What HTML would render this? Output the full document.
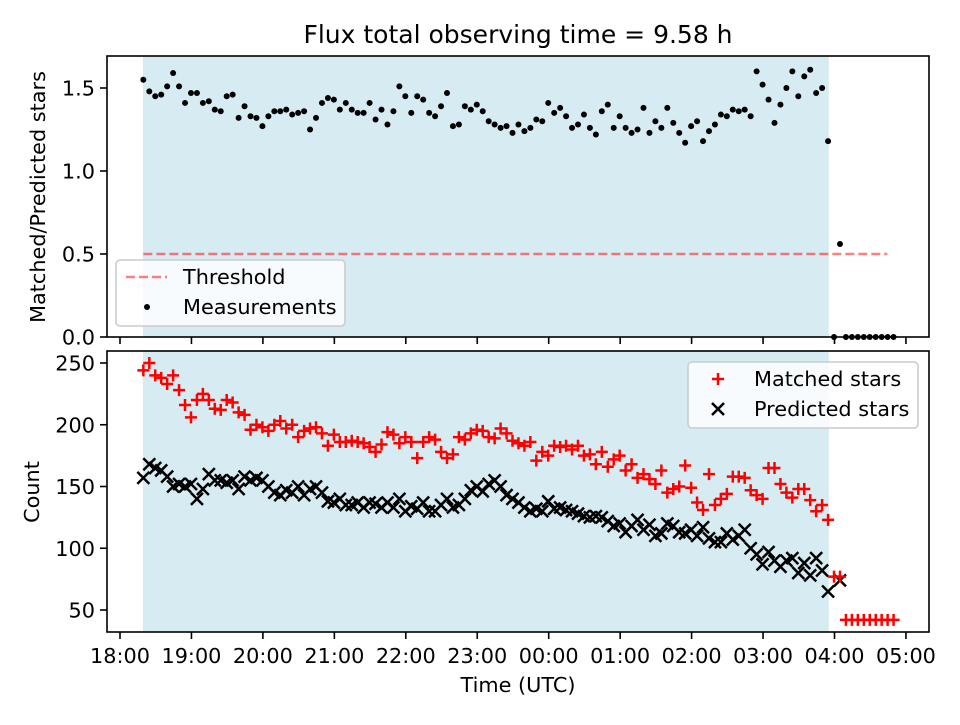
<!DOCTYPE html>
<html><head><meta charset="utf-8"><style>
body{margin:0;background:#fff;}
svg{font-family:"DejaVu Sans","Liberation Sans",sans-serif;}
</style></head><body>
<svg id="c" width="960" height="720" xmlns="http://www.w3.org/2000/svg"></svg>
<script>
const ratio=[1.55,1.48,1.45,1.46,1.51,1.59,1.51,1.41,1.47,1.47,1.41,1.42,1.37,1.36,1.45,1.46,1.32,1.39,1.33,1.32,1.27,1.33,1.36,1.36,1.37,1.34,1.35,1.36,1.25,1.32,1.41,1.44,1.43,1.37,1.41,1.37,1.35,1.35,1.41,1.31,1.37,1.28,1.36,1.51,1.45,1.35,1.45,1.43,1.35,1.33,1.39,1.47,1.27,1.28,1.39,1.37,1.40,1.36,1.30,1.28,1.26,1.27,1.23,1.28,1.24,1.26,1.31,1.30,1.41,1.35,1.38,1.33,1.26,1.28,1.34,1.26,1.22,1.36,1.40,1.26,1.33,1.26,1.23,1.25,1.38,1.23,1.30,1.26,1.38,1.29,1.23,1.17,1.27,1.30,1.18,1.24,1.28,1.34,1.33,1.37,1.36,1.37,1.33,1.60,1.52,1.43,1.29,1.40,1.50,1.60,1.45,1.57,1.61,1.47,1.50,1.18,0,0.56,0,0,0,0,0,0,0,0,0];
const matched=[244,250,240,238,233,240,228,216,206,220,225,220,213,212,220,218,210,208,196,200,198,195,200,203,197,200,190,195,197,198,193,183,192,186,186,187,186,185,182,178,184,194,192,185,190,186,173,186,190,188,178,173,176,190,188,193,196,195,190,189,197,193,187,185,183,186,171,178,175,183,182,183,180,183,175,176,168,178,166,172,175,163,168,157,160,156,152,163,145,148,150,167,149,137,131,160,135,140,144,158,158,157,147,143,140,165,165,152,145,141,148,148,139,130,135,123,77,77,42,42,42,42,42,42,42,42,42];
const predicted=[157,168,165,163,158,150,152,150,152,140,148,160,155,155,153,155,148,158,155,157,155,150,145,143,147,145,150,143,148,150,145,138,137,140,135,135,137,133,137,136,133,137,133,140,130,134,132,137,130,130,135,140,133,135,140,147,150,146,152,155,150,143,140,137,133,130,132,130,138,132,133,131,130,128,126,125,126,125,122,118,120,113,118,123,115,119,110,112,120,118,113,112,115,110,117,108,105,105,112,107,110,115,100,95,87,97,90,85,90,92,80,88,78,92,82,65,null,74];
const xTickLabels=["18:00","19:00","20:00","21:00","22:00","23:00","00:00","01:00","02:00","03:00","04:00","05:00"];
const ratioTicks=[0,0.5,1.0,1.5];
const countTicks=[50,100,150,200,250];
const startHour=0.3267, stepHour=5/60, shadeStart=0.32, shadeEnd=9.92, thrStart=0.3267, thrEnd=10.74, threshold=0.5;

const NS="http://www.w3.org/2000/svg", svg=document.getElementById('c');
function el(t,a,p){const e=document.createElementNS(NS,t);for(const k in a)e.setAttribute(k,a[k]);(p||svg).appendChild(e);return e;}
const X=h=>120+h*71.45;
const Y1=v=>337-v*166;
const Y2=v=>610-(v-50)*1.235;
const L=107,R=929,FS=20.8;

[[56,337],[351,632]].forEach(([t,b],i)=>{
  const r=el('rect',{x:X(shadeStart),y:t,width:X(shadeEnd)-X(shadeStart),height:b-t,fill:'#add8e6','fill-opacity':0.5});
  
  
});
const th=el('line',{x1:X(thrStart),x2:X(thrEnd),y1:Y1(threshold),y2:Y1(threshold),stroke:'#ff0000','stroke-opacity':0.5,'stroke-width':2.5,'stroke-dasharray':'9,4'});


const gm=el('g',{});


ratio.forEach((v,i)=>{const c=el('circle',{cx:X(startHour+i*stepHour),cy:Y1(v),r:3,fill:'#000'},gm);

});
const gp=el('g',{stroke:'#000','stroke-width':2.5});


predicted.forEach((v,i)=>{if(v==null)return;const x=X(startHour+i*stepHour),y=Y2(v),s=6;
const p=el('path',{d:`M${x-s} ${y-s}L${x+s} ${y+s}M${x-s} ${y+s}L${x+s} ${y-s}`},gp);

});
const gr=el('g',{stroke:'#ff0000','stroke-width':2.5});


matched.forEach((v,i)=>{const x=X(startHour+i*stepHour),y=Y2(v),s=6;
const p=el('path',{d:`M${x-s} ${y}L${x+s} ${y}M${x} ${y-s}L${x} ${y+s}`},gr);

});

[[56,337],[351,632]].forEach(([t,b],i)=>{
  const r=el('rect',{x:L,y:t,width:R-L,height:b-t,fill:'none',stroke:'#000','stroke-width':1.6});
  
  
});
xTickLabels.forEach((lab,k)=>{const x=X(k);
  el('line',{x1:x,x2:x,y1:337,y2:344,stroke:'#000','stroke-width':1.6});
  el('line',{x1:x,x2:x,y1:632,y2:639,stroke:'#000','stroke-width':1.6});
  const t=el('text',{x:x,y:663,'font-size':FS,'text-anchor':'middle'});t.textContent=lab;
  
  
});
ratioTicks.forEach(v=>{const y=Y1(v);el('line',{x1:L-7,x2:L,y1:y,y2:y,stroke:'#000','stroke-width':1.6});
  const t=el('text',{x:L-12,y:y+7.5,'font-size':FS,'text-anchor':'end'});t.textContent=v.toFixed(1);
  
  });
countTicks.forEach(v=>{const y=Y2(v);el('line',{x1:L-7,x2:L,y1:y,y2:y,stroke:'#000','stroke-width':1.6});
  const t=el('text',{x:L-12,y:y+7.5,'font-size':FS,'text-anchor':'end'});t.textContent=v;
  
  });
</script>
<svg width="960" height="720" style="position:absolute;left:0;top:0" xmlns="http://www.w3.org/2000/svg">
<text x="518" y="43" font-size="25" text-anchor="middle">Flux total observing time = 9.58 h</text>
<text x="518" y="692" font-size="20.8" text-anchor="middle">Time (UTC)</text>
<text transform="translate(45,197) rotate(-90)" font-size="20.8" text-anchor="middle">Matched/Predicted stars</text>
<text transform="translate(39,492) rotate(-90)" font-size="20.8" text-anchor="middle">Count</text>
<g>
<rect x="116" y="260" width="229" height="66" rx="4" fill="#fff" fill-opacity="0.8" stroke="#ccc" stroke-width="1.6"/>
<line x1="126" y1="277" x2="167" y2="277" stroke="#ff0000" stroke-opacity="0.5" stroke-width="2.5" stroke-dasharray="9,4"/>
<text x="183" y="284" font-size="20.8">Threshold</text>
<circle cx="147" cy="307" r="3" fill="#000"/>
<text x="183" y="314" font-size="20.8">Measurements</text>
</g>
<g>
<rect x="688" y="362" width="230" height="66" rx="4" fill="#fff" fill-opacity="0.8" stroke="#ccc" stroke-width="1.6"/>
<path d="M712 379H724M718 373V385" stroke="#ff0000" stroke-width="2.5"/>
<text x="754" y="386" font-size="20.8">Matched stars</text>
<path d="M712 403L724 415M712 415L724 403" stroke="#000" stroke-width="2.5"/>
<text x="754" y="416" font-size="20.8">Predicted stars</text>
</g>
</svg>
</body></html>
